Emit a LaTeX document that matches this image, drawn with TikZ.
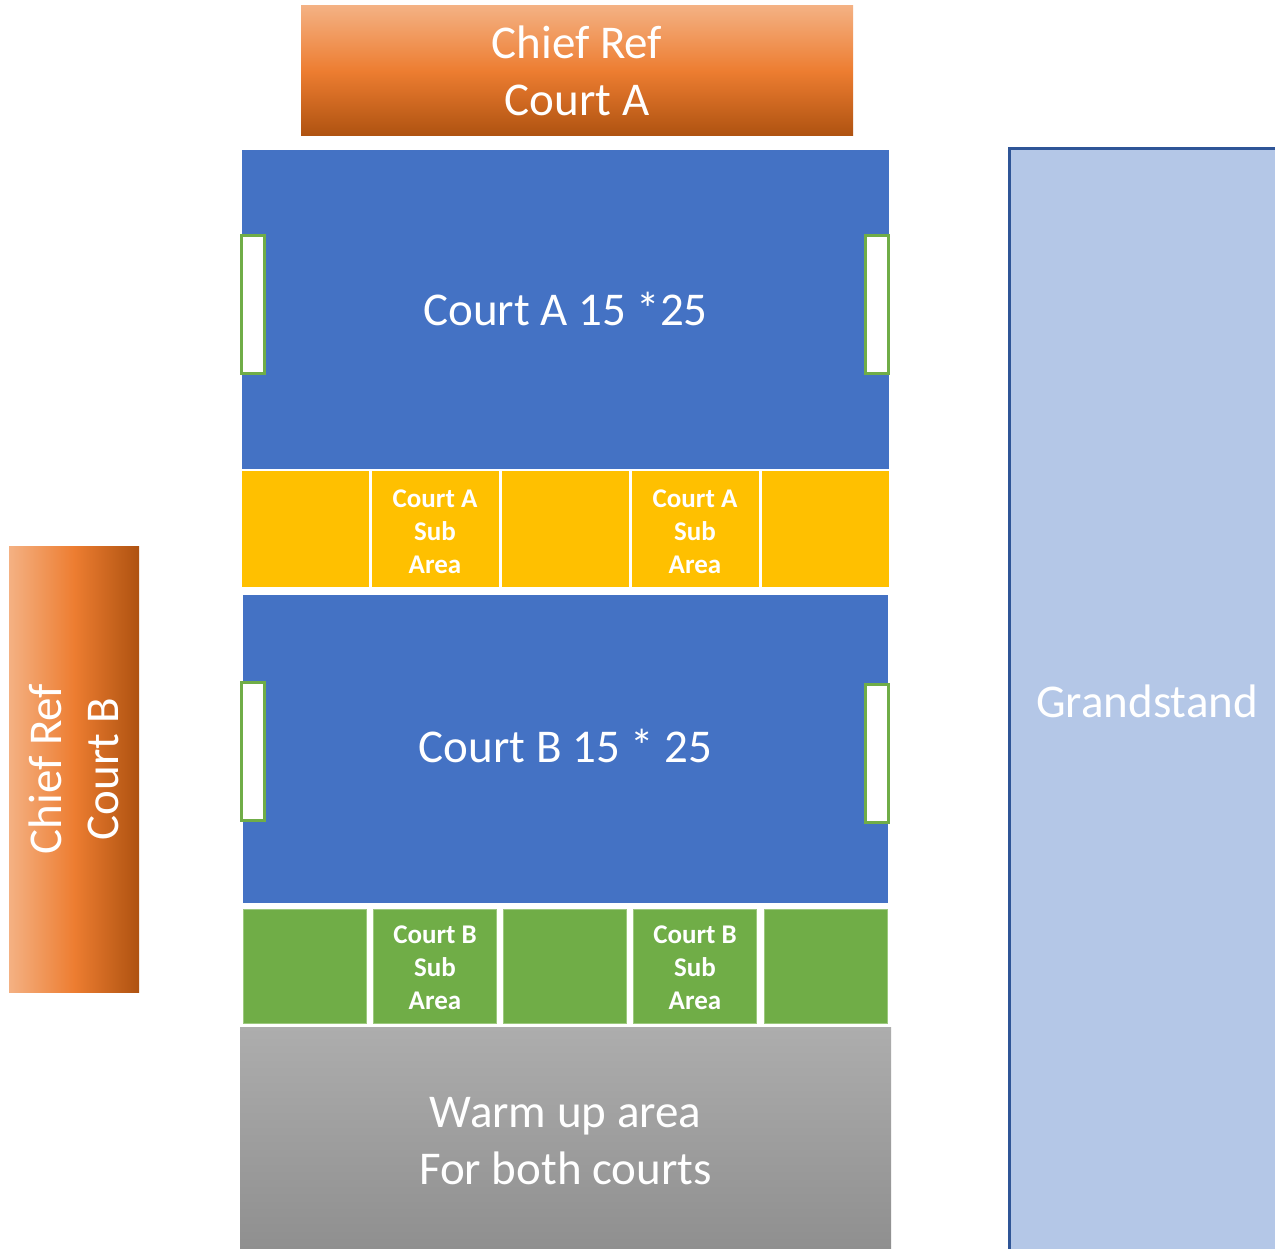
\documentclass[tikz,border=0pt]{standalone}
\usepackage{fontspec}
\setmainfont{Carlito}
\definecolor{orL}{HTML}{F4B183}
\definecolor{orM}{HTML}{ED7D31}
\definecolor{orD}{HTML}{AE5210}
\definecolor{court}{HTML}{4472C4}
\definecolor{subA}{HTML}{FFC000}
\definecolor{subB}{HTML}{70AD47}
\definecolor{subBline}{HTML}{9CC87E}
\definecolor{goalline}{HTML}{70AD47}
\definecolor{grandfill}{HTML}{B4C7E7}
\definecolor{grandline}{HTML}{2F5597}
\definecolor{grayT}{HTML}{ADADAD}
\definecolor{grayB}{HTML}{8E8E8E}
\begin{document}
\begin{tikzpicture}[x=1pt,y=-1pt,
  box/.style={rectangle, inner sep=0pt, outer sep=0pt},
  bigtxt/.style={text=white, font=\fontsize{47}{57}\selectfont, align=center},
  subtxt/.style={text=white, font=\fontsize{27}{33}\selectfont\bfseries, align=center, text depth=1pt},
  courtbox/.style={box, fill=court},
  goalbox/.style={box, fill=white, draw=goalline, line width=3pt, minimum width=23, minimum height=138},
  cellA/.style={box, fill=subA, minimum width=127, minimum height=116},
  cellB/.style={box, fill=subB, draw=subBline, line width=0.8pt, minimum width=123, minimum height=114}
]
\useasboundingbox (0,0) rectangle (1275,1249);
\fill[white] (0,0) rectangle (1275,1249);

% Chief Ref Court A
\node (refA) [box, minimum width=552, minimum height=130, top color=orL, bottom color=orD, middle color=orM, bigtxt] at (577,71) {Chief Ref\\Court A};

% Court A
\node (courtA) [courtbox, minimum width=647, minimum height=319] at (565.5,309.5) {};
\node (courtAtxt) [bigtxt] at (565.5,309) {Court A 15 *25};
\node (goalAL) [goalbox] at (253,304.5) {};
\node (goalAR) [goalbox] at (877,304.5) {};

% Court A sub row
\node (a1) [cellA] at (305.5,529) {};
\node (a2) [cellA] at (435,529) {};
\node (a3) [cellA] at (565,529) {};
\node (a4) [cellA] at (695,529) {};
\node (a5) [cellA] at (825,529) {};
\node (a2txt) [subtxt] at (435,532) {Court A\\Sub\\Area};
\node (a4txt) [subtxt] at (695,532) {Court A\\Sub\\Area};

% Court B
\node (courtB) [courtbox, minimum width=645, minimum height=308] at (565.5,749) {};
\node (courtBtxt) [bigtxt] at (565.5,746) {Court B 15 * 25};
\node (goalBL) [goalbox] at (253,751.5) {};
\node (goalBR) [goalbox] at (877,753) {};

% Court B sub row
\node (b1) [cellB] at (305,966.5) {};
\node (b2) [cellB] at (435,966.5) {};
\node (b3) [cellB] at (565,966.5) {};
\node (b4) [cellB] at (695,966.5) {};
\node (b5) [cellB] at (825.5,966.5) {};
\node (b2txt) [subtxt] at (435,968.5) {Court B\\Sub\\Area};
\node (b4txt) [subtxt] at (695,968.5) {Court B\\Sub\\Area};

% Warm up area
\node (warm) [box, minimum width=651, minimum height=230, top color=grayT, bottom color=grayB] at (565.5,1142) {};
\node (warmtxt) [bigtxt] at (565.5,1141) {Warm up area\\For both courts};

% Chief Ref Court B
\node (refB) [box, minimum width=130, minimum height=446, left color=orL, right color=orD, middle color=orM] at (74,769) {};
\node (refBtxt) [bigtxt, rotate=90] at (refB.center) {Chief Ref\\Court B};

% Grandstand
\node (grand) [box, fill=grandfill, draw=grandline, line width=2.5pt, minimum width=290, minimum height=1108, anchor=north west] at (1009.5,148.5) {};
\node (grandtxt) [bigtxt] at (1147,701) {Grandstand};
\end{tikzpicture}
\end{document}
